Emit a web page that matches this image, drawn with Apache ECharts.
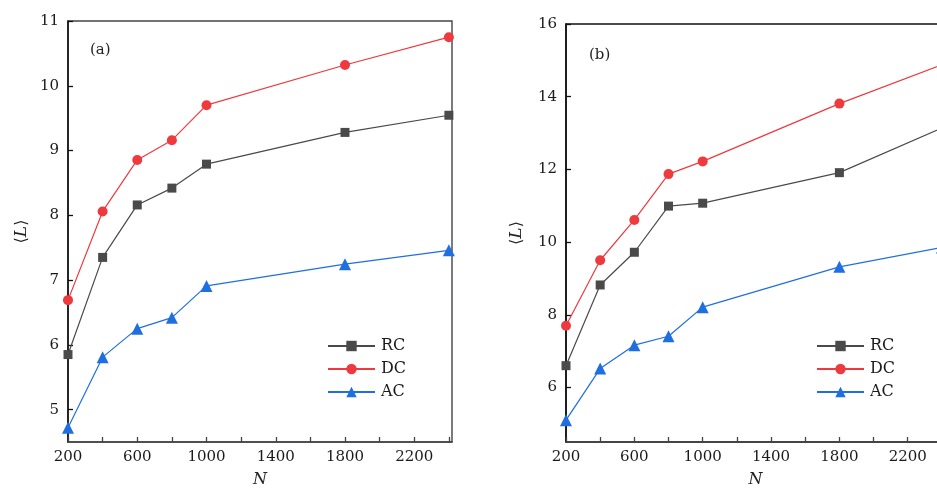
<!DOCTYPE html>
<html>
<head>
<meta charset="utf-8">
<script src="https://cdn.jsdelivr.net/npm/echarts@6/dist/echarts.min.js"></script>
<style>html,body{margin:0;padding:0;background:#fff}#c{width:937px;height:490px}</style>
</head>
<body>
<div id="c"></div>
<script>
// ---- data ----
var N = [200, 400, 600, 800, 1000, 1800, 2400];
var seriesNames = ['RC', 'DC', 'AC'];
// panel (a)
var aRC = [5.85, 7.35, 8.16, 8.42, 8.79, 9.28, 9.545];
var aDC = [6.69, 8.06, 8.855, 9.16, 9.70, 10.32, 10.75];
var aAC = [4.72, 5.81, 6.25, 6.42, 6.91, 7.245, 7.46];
// panel (b)
var bRC = [6.60, 8.82, 9.72, 10.99, 11.07, 11.91, 13.14];
var bDC = [7.70, 9.50, 10.61, 11.87, 12.22, 13.81, 14.88];
var bAC = [5.10, 6.52, 7.165, 7.41, 8.21, 9.32, 9.85];
// ticks
var xTicks = [200, 400, 600, 800, 1000, 1200, 1400, 1600, 1800, 2000, 2200, 2400];
var xLabels = [200, 600, 1000, 1400, 1800, 2200];
var aYTicks = [5, 6, 7, 8, 9, 10, 11];
var bYTicks = [6, 8, 10, 12, 14, 16];
var panelLabels = ['(a)', '(b)'];

var FONT = 'DejaVu Serif';
var colors = { RC: '#4a4a4a', DC: '#ee3a3e', AC: '#1f6fe0' };
var symbols = { RC: 'rect', DC: 'circle', AC: 'triangle' };
var sizes = { RC: 9, DC: 10, AC: 12 };

function pair(xs, ys) { return xs.map(function (x, i) { return [x, ys[i]]; }); }
function plain(v) { return String(v); }

function xAxis(gi) {
  return {
    type: 'value', gridIndex: gi, min: 200, max: 2418,
    name: 'N', nameLocation: 'middle', nameGap: 30,
    nameTextStyle: { fontFamily: FONT, fontStyle: 'italic', fontSize: 16, color: '#222' },
    axisLine: { show: true, lineStyle: { color: '#444', width: 1.6 } },
    axisTick: { show: true, inside: true, length: 5, customValues: xTicks, lineStyle: { color: '#444', width: 1.3 } },
    axisLabel: { customValues: xLabels, formatter: plain, margin: 8, fontFamily: FONT, fontSize: 15, color: '#1a1a1a' },
    splitLine: { show: false }
  };
}
function yAxis(gi, min, max, ticks, gap) {
  return {
    type: 'value', gridIndex: gi, min: min, max: max,
    name: '{b|⟨}{i|L}{b|⟩}', nameLocation: 'middle', nameGap: gap, nameRotate: 90,
    nameTextStyle: {
      color: '#222',
      rich: {
        b: { fontFamily: 'DejaVu Sans', fontSize: 16, color: '#222' },
        i: { fontFamily: FONT, fontStyle: 'italic', fontSize: 17, color: '#222' }
      }
    },
    axisLine: { show: true, lineStyle: { color: '#111', width: 1.6 } },
    axisTick: { show: true, inside: true, length: 5, customValues: ticks, lineStyle: { color: '#111', width: 1.3 } },
    axisLabel: { customValues: ticks, formatter: plain, margin: 9, fontFamily: FONT, fontSize: 15, color: '#1a1a1a' },
    splitLine: { show: false }
  };
}
function mkSeries(name, gi, ys) {
  return {
    name: name, type: 'line', xAxisIndex: gi, yAxisIndex: gi,
    data: pair(N, ys), symbol: symbols[name], symbolSize: sizes[name],
    showAllSymbol: true, clip: true,
    itemStyle: { color: colors[name] },
    lineStyle: { color: colors[name], width: 1.2 },
    emphasis: { disabled: true }, animation: false
  };
}
function legend(left) {
  return {
    data: seriesNames, orient: 'vertical', left: left, top: 333,
    itemWidth: 47, itemHeight: 13, itemGap: 7,
    textStyle: { fontFamily: FONT, fontSize: 16, color: '#1a1a1a', padding: [0, 0, 0, 1] },
    selectedMode: false
  };
}

var chart = echarts.init(document.getElementById('c'), null, { renderer: 'canvas' });
chart.setOption({
  animation: false,
  backgroundColor: '#fff',
  grid: [
    { left: 68, top: 21, width: 384, height: 421, outerBoundsMode: 'none', containLabel: false, show: true, borderColor: '#444', borderWidth: 1.4, backgroundColor: 'transparent' },
    { left: 566, top: 24, width: 379, height: 418, outerBoundsMode: 'none', containLabel: false, show: true, borderColor: '#111', borderWidth: 1.4, backgroundColor: 'transparent' }
  ],
  xAxis: [xAxis(0), xAxis(1)],
  yAxis: [yAxis(0, 4.5, 11, aYTicks, 38), yAxis(1, 4.5, 16, bYTicks, 41)],
  legend: [legend(322), legend(811)],
  graphic: [
    { type: 'text', left: 90, top: 43, style: { text: panelLabels[0], fontFamily: FONT, fontSize: 15, fill: '#222' } },
    { type: 'text', left: 589, top: 48, style: { text: panelLabels[1], fontFamily: FONT, fontSize: 15, fill: '#222' } }
  ],
  series: [
    mkSeries('RC', 0, aRC), mkSeries('DC', 0, aDC), mkSeries('AC', 0, aAC),
    mkSeries('RC', 1, bRC), mkSeries('DC', 1, bDC), mkSeries('AC', 1, bAC)
  ]
});
</script>
</body>
</html>
